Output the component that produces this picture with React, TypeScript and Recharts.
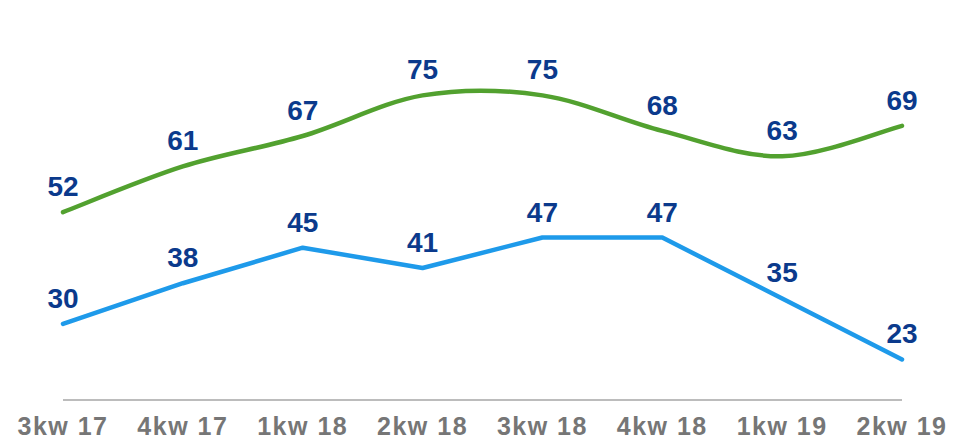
import React from 'react';
import { LineChart, Line, XAxis, YAxis, LabelList } from 'recharts';

const quarters = ['3kw 17', '4kw 17', '1kw 18', '2kw 18', '3kw 18', '4kw 18', '1kw 19', '2kw 19'];
const greenValues = [52, 61, 67, 75, 75, 68, 63, 69];
const blueValues = [30, 38, 45, 41, 47, 47, 35, 23];

const chartData = quarters.map((name, i) => ({ name, green: greenValues[i], blue: blueValues[i] }));

// Excel-like smooth line (Catmull-Rom as cubic beziers)
const smoothCurve = (context: any) => {
  let xs: number[] = [];
  let ys: number[] = [];
  return {
    areaStart() {},
    areaEnd() {},
    lineStart() {
      xs = [];
      ys = [];
    },
    point(x: number, y: number) {
      xs.push(+x);
      ys.push(+y);
    },
    lineEnd() {
      const n = xs.length;
      if (!n) return;
      context.moveTo(xs[0], ys[0]);
      for (let i = 0; i < n - 1; i++) {
        const p = Math.max(i - 1, 0);
        const q = Math.min(i + 2, n - 1);
        context.bezierCurveTo(
          xs[i] + (xs[i + 1] - xs[p]) / 6,
          ys[i] + (ys[i + 1] - ys[p]) / 6,
          xs[i + 1] - (xs[q] - xs[i]) / 6,
          ys[i + 1] - (ys[q] - ys[i]) / 6,
          xs[i + 1],
          ys[i + 1]
        );
      }
    },
  };
};

const labelStyle = { fontSize: 28, fontWeight: 'bold' as const, fill: '#0B3A8C', fontFamily: 'Liberation Sans, Arial, sans-serif' };

const App = () => {
  return (
    <div style={{ position: 'absolute', left: 0, top: 0 }}>
      <LineChart width={954} height={442} data={chartData} margin={{ top: 70, right: 52, bottom: 0, left: 63 }}>
        <XAxis
          dataKey="name"
          height={42}
          padding={{ left: 0, right: 0 }}
          tickLine={false}
          tickSize={0}
          tickMargin={17}
          axisLine={{ stroke: '#A6A6A6', strokeWidth: 1.5 }}
          tick={{ fontSize: 25, fontWeight: 'bold', fill: '#767676', letterSpacing: 1.5, fontFamily: 'Liberation Sans, Arial, sans-serif' }}
          interval={0}
        />
        <YAxis hide domain={[15, 80]} />
        <Line
          dataKey="green"
          type={smoothCurve as any}
          stroke="#52A12F"
          strokeWidth={4.5}
          strokeLinecap="round"
          dot={false}
          activeDot={false}
          isAnimationActive={false}
        >
          <LabelList dataKey="green" position="top" offset={16} style={labelStyle} />
        </Line>
        <Line
          dataKey="blue"
          type="linear"
          stroke="#1E9AEA"
          strokeWidth={4.5}
          strokeLinecap="round"
          strokeLinejoin="round"
          dot={false}
          activeDot={false}
          isAnimationActive={false}
        >
          <LabelList dataKey="blue" position="top" offset={16} style={labelStyle} />
        </Line>
      </LineChart>
    </div>
  );
};

export default App;
